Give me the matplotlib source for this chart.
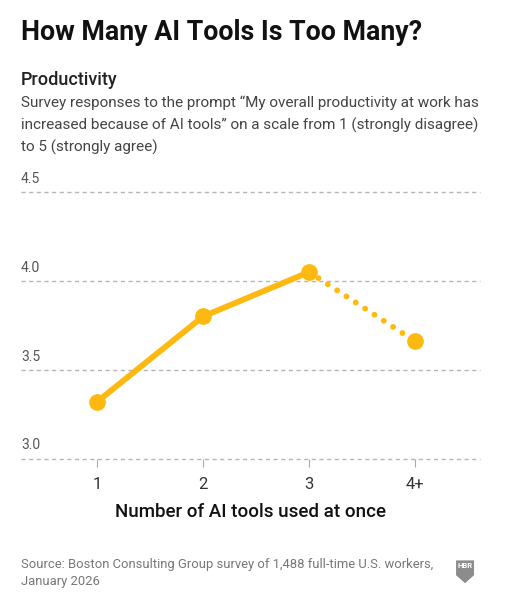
import matplotlib.pyplot as plt
from matplotlib.patches import Polygon

plt.rcParams['font.family'] = ['Roboto', 'DejaVu Sans']

# data
tools = ['1', '2', '3', '4+']
productivity = [3.32, 3.80, 4.05, 3.66]
yticks = [3.0, 3.5, 4.0, 4.5]

gold = '#FDB90F'
grey = '#555555'

fig = plt.figure(figsize=(5.13, 6.0), dpi=100)
ax = fig.add_axes([0.041, 0.2355, 0.895, 0.4445])

xs = list(range(1, len(tools) + 1))

# gridlines
for v in yticks:
    ax.axhline(v, color='#b5b5b5', lw=1.0, ls=(0, (3, 2.5)), zorder=1,
               clip_on=False)
    ax.text(0.0, v + 0.035, f'{v:.1f}', transform=ax.get_yaxis_transform(),
            ha='left', va='bottom', fontsize=10, color=grey)

# solid part 1..3, dotted 3..4+
ax.plot(xs[:3], productivity[:3], color=gold, lw=4.2, solid_capstyle='round',
        zorder=3)
ax.plot(xs[2:], productivity[2:], color=gold, lw=4.2, ls=(0, (0.01, 1.9)),
        dash_capstyle='round', zorder=3)
ax.plot(xs, productivity, 'o', color=gold, ms=11, zorder=4)

ax.set_xlim(0.283, 4.613)
ax.set_ylim(3.0, 4.5)
ax.set_yticks([])
ax.set_xticks(xs)
ax.set_xticklabels(tools, fontsize=12, color='#333333')
ax.tick_params(axis='x', length=6, width=0.8, color='#aaaaaa', pad=7)
for s in ax.spines.values():
    s.set_visible(False)
ax.set_xlabel('Number of AI tools used at once', fontsize=13.5,
              fontweight='medium', color='#111111', labelpad=8)

# header text
fig.text(0.041, 0.945, 'How Many AI Tools Is Too Many?', fontsize=19.3,
         fontweight='bold', color='#111111', va='center', ha='left')
fig.text(0.041, 0.867, 'Productivity', fontsize=13, fontweight='medium',
         color='#222222', va='center', ha='left')
subtitle = ('Survey responses to the prompt \u201cMy overall productivity at work has\n'
            'increased because of AI tools\u201d on a scale from 1 (strongly disagree)\n'
            'to 5 (strongly agree)')
fig.text(0.041, 0.84, subtitle, fontsize=11.0, color='#444444', va='top',
         ha='left', linespacing=1.6)

# source
fig.text(0.041, 0.045, 'Source: Boston Consulting Group survey of 1,488 full-time U.S. workers,\n'
         'January 2026', fontsize=9.4, color='#777777', va='center', ha='left',
         linespacing=1.35)

# HBR shield
lx, ly, w, h = 0.889, 0.028, 0.035, 0.038
pts = [(lx, ly + h), (lx + w, ly + h), (lx + w, ly + h * 0.35),
       (lx + w / 2, ly), (lx, ly + h * 0.35)]
fig.patches.append(Polygon(pts, closed=True, transform=fig.transFigure,
                           facecolor='#8c8c8c', edgecolor='none'))
fig.text(lx + w / 2, ly + h * 0.76, 'HBR', fontsize=5.5, fontweight='bold',
         color='white', ha='center', va='center')

fig.savefig('out.png', dpi=100, facecolor='white')
